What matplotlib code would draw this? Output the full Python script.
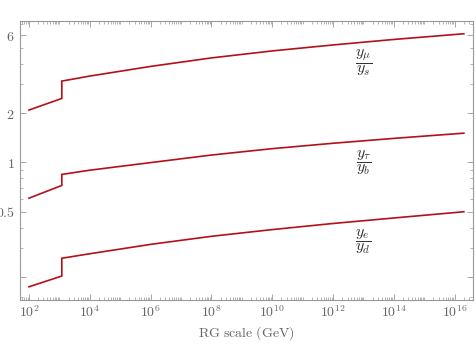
import numpy as np
import matplotlib
matplotlib.use("Agg")
import matplotlib.pyplot as plt
from matplotlib.ticker import FixedLocator, NullFormatter, FixedFormatter

plt.rcParams['mathtext.fontset'] = 'cm'
plt.rcParams['font.family'] = ['DejaVu Serif']

# RG scale (GeV), threshold at ~1.2 TeV
scale_low = [1e2, 1.2e3]
scale_high = [1.2e3, 1e4, 1e6, 1e8, 1e10, 1e12, 1e14, 2e16]

ratio_mu_s_low = [2.09, 2.46]
ratio_mu_s_high = [3.14, 3.37, 3.86, 4.35, 4.80, 5.22, 5.64, 6.11]

ratio_tau_b_low = [0.605, 0.724]
ratio_tau_b_high = [0.845, 0.897, 0.998, 1.110, 1.214, 1.310, 1.403, 1.51]

ratio_e_d_low = [0.174, 0.2025]
ratio_e_d_high = [0.260, 0.277, 0.316, 0.354, 0.389, 0.424, 0.458, 0.50]

labels = [r'$\dfrac{y_\mu}{y_s}$', r'$\dfrac{y_\tau}{y_b}$', r'$\dfrac{y_e}{y_d}$']
label_x = 1e13
label_y = [4.05, 1.0, 0.331]

ytick_major = [0.2, 0.5, 1, 2, 6]
ytick_labels = ['', '0.5', '1', '2', '6']
ytick_minor = [0.15, 0.3, 0.4, 0.6, 0.7, 0.8, 0.9, 3, 4, 5, 7]

color = '#b3101a'
gray = '#666666'

fig = plt.figure(figsize=(4.77, 3.47), dpi=100)
ax = fig.add_axes([0.041, 0.1354, 0.9505, 0.8049])

series = [(ratio_mu_s_low, ratio_mu_s_high),
          (ratio_tau_b_low, ratio_tau_b_high),
          (ratio_e_d_low, ratio_e_d_high)]
for lo, hi in series:
    xs = list(scale_low) + list(scale_high)
    ys = list(lo) + list(hi)
    ax.plot(xs, ys, color=color, lw=1.2, solid_joinstyle='miter')

for lab, yy in zip(labels, label_y):
    ax.text(label_x, yy, lab, ha='center', va='center', fontsize=11.5, color='#333333')

ax.set_xscale('log')
ax.set_yscale('log')
ax.set_xlim(10**1.69, 10**16.6)
ax.set_ylim(0.1445, 7.34)

xmaj = [10.0**k for k in range(2, 17, 2)]
ax.xaxis.set_major_locator(FixedLocator(xmaj))
ax.xaxis.set_major_formatter(FixedFormatter([r'$10^{%d}$' % k for k in range(2, 17, 2)]))
xmin = []
for k in range(1, 17):
    for m in range(1, 10):
        v = m * 10.0**k
        if m == 1 and k % 2 == 0:
            continue
        xmin.append(v)
ax.xaxis.set_minor_locator(FixedLocator(xmin))
ax.xaxis.set_minor_formatter(NullFormatter())

ax.yaxis.set_major_locator(FixedLocator(ytick_major))
ax.yaxis.set_major_formatter(FixedFormatter([('$%s$' % t) if t else '' for t in ytick_labels]))
ax.yaxis.set_minor_locator(FixedLocator(ytick_minor))
ax.yaxis.set_minor_formatter(NullFormatter())

ax.tick_params(which='both', direction='in', top=True, right=True, color='#999999', labelcolor=gray, labelsize=10)
ax.tick_params(which='major', length=4, width=0.6)
ax.tick_params(which='minor', length=2, width=0.5)
for s in ax.spines.values():
    s.set_color('#999999')
    s.set_linewidth(0.8)

ax.set_xlabel(r'$\mathrm{RG\ scale\ (GeV)}$', color=gray, fontsize=10, labelpad=3)

fig.savefig('out.png', dpi=100)
